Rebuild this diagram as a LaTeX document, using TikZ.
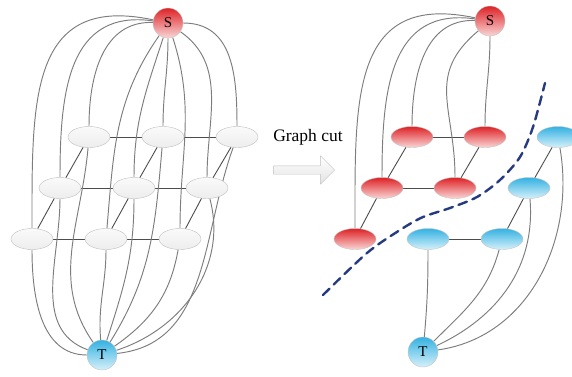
\documentclass[tikz,border=0pt]{standalone}
\usepackage{fontspec}
\setmainfont{Liberation Serif}
\usetikzlibrary{shapes.geometric,shapes.arrows,backgrounds}
\definecolor{sred}{RGB}{222,34,38}
\definecolor{sredlt}{RGB}{250,214,214}
\definecolor{tblue}{RGB}{52,178,226}
\definecolor{tbluelt}{RGB}{214,240,250}
\definecolor{cutblue}{RGB}{38,58,128}
\definecolor{edgegray}{RGB}{125,125,125}
\begin{document}
\begin{tikzpicture}[x=1pt, y=1pt, line join=round, line cap=round,
	pix/.style={ellipse, draw=gray!50, minimum width=42pt, minimum height=21pt, inner sep=0pt, top color=gray!4, bottom color=gray!14},
	rpix/.style={pix, draw=gray!45, top color=sred, bottom color=sredlt},
	bpix/.style={pix, draw=gray!45, top color=tblue, bottom color=tbluelt},
	term/.style={circle, draw=gray!45, minimum size=30pt, inner sep=0pt, font=\fontsize{15}{15}\selectfont},
	edge/.style={draw=edgegray, line width=0.95pt},
	link/.style={draw=black!70, line width=0.9pt}]
	\useasboundingbox (0,0) rectangle (572,376);
	%left graph
	\node[term, top color=sred, bottom color=sredlt] (S) at (168,353) {S};
	\node[term, top color=tblue, bottom color=tbluelt] (T) at (102,21) {T};
	\node[pix] (A1) at (89,239) {}; \node[pix] (B1) at (163,239) {}; \node[pix] (C1) at (237,239) {};
	\node[pix] (A2) at (60,188) {}; \node[pix] (B2) at (134,188) {}; \node[pix] (C2) at (207,188) {};
	\node[pix] (A3) at (32,137) {}; \node[pix] (B3) at (106,137) {}; \node[pix] (C3) at (180,137) {};
	%right graph
	\node[term, top color=sred, bottom color=sredlt] (S') at (490,355) {S};
	\node[term, top color=tblue, bottom color=tbluelt] (T') at (423,24) {T};
	\node[rpix] (A1') at (412,239) {}; \node[rpix] (B1') at (485,239) {}; \node[bpix] (C1') at (558,239) {};
	\node[rpix] (A2') at (382,188) {}; \node[rpix] (B2') at (455,188) {}; \node[bpix] (C2') at (529,188) {};
	\node[rpix] (A3') at (355,137) {}; \node[bpix] (B3') at (428,137) {}; \node[bpix] (C3') at (502,137) {};
	%arrow and label
	\node[single arrow, draw=gray!50, top color=white, bottom color=gray!22, minimum height=61pt, minimum width=28pt, single arrow head extend=10pt, inner sep=4pt] (arr) at (302,206) {};
	\node[font=\fontsize{17.5}{18}\selectfont, anchor=base] (lbl) at (308,234.5) {Graph cut};
	\begin{scope}[on background layer]
		\draw[link] (A1)--(B1)--(C1) (A2)--(B2)--(C2) (A3)--(B3)--(C3);
		\draw[link] (A3)--(A2)--(A1) (B3)--(B2)--(B1) (C3)--(C2)--(C1);
		\draw[edge] (S) to[out=168,in=90,looseness=1.35] (A3);
		\draw[edge] (S) to[out=172,in=90,looseness=1.2] (A2);
		\draw[edge] (S) to[out=178,in=90,looseness=1.05] (A1);
		\draw[edge] (S) to[out=-125,in=85] (B3);
		\draw[edge] (S) to[out=-108,in=90] (B2);
		\draw[edge] (S) to[out=-90,in=90] (B1);
		\draw[edge] (S) to[out=-72,in=90] (C3);
		\draw[edge] (S) to[out=-35,in=90] (C2);
		\draw[edge] (S) to[out=0,in=90,looseness=1.1] (C1);
		\draw[edge] (A3) to[out=-90,in=180] (T);
		\draw[edge] (A2) to[out=-90,in=160] (T);
		\draw[edge] (A1) to[out=-95,in=125] (T);
		\draw[edge] (B3) to[out=-90,in=95] (T);
		\draw[edge] (B2) to[out=-90,in=72] (T);
		\draw[edge] (B1) to[out=-95,in=58] (T);
		\draw[edge] (C3) to[out=-100,in=35] (T);
		\draw[edge] (C2) to[out=-75,in=18] (T);
		\draw[edge] (C1) to[out=-110,in=6] (T);
		%right links
		\draw[link] (A1')--(B1') (A2')--(B2') (B3')--(C3');
		\draw[link] (A3')--(A2')--(A1') (B2')--(B1') (C3')--(C2')--(C1');
		\draw[edge] (S') to[out=168,in=90,looseness=1.35] (A3');
		\draw[edge] (S') to[out=172,in=90,looseness=1.2] (A2');
		\draw[edge] (S') to[out=178,in=90,looseness=1.05] (A1');
		\draw[edge] (S') to[out=-140,in=90,looseness=1.2] (B2');
		\draw[edge] (S') to[out=-90,in=90] (B1');
		\draw[edge] (B3') to[out=-90,in=85] (T');
		\draw[edge] (C3') to[out=-105,in=45] (T');
		\draw[edge] (C2') to[out=-85,in=25] (T');
		\draw[edge] (C1') to[out=-80,in=8] (T');
	\end{scope}
	\draw[cutblue, line width=2.4pt, dash pattern=on 9pt off 6pt] plot[smooth] coordinates {(323,81) (367,123) (400,146) (423,159) (450,168) (477,179) (500,196) (520,219) (533,249) (545,293)};
\end{tikzpicture}
\end{document}
